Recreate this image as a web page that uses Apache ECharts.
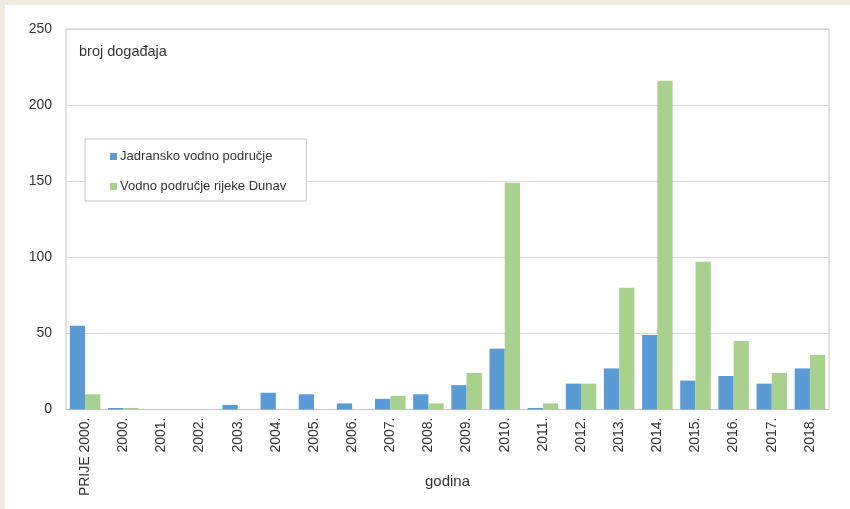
<!DOCTYPE html>
<html>
<head>
<meta charset="utf-8">
<script src="https://cdn.jsdelivr.net/npm/echarts@6/dist/echarts.min.js"></script>
<style>
  html, body { margin: 0; padding: 0; }
  body { width: 850px; height: 509px; background: #eeebe0; position: relative; overflow: hidden; }
  #chart { position: absolute; left: 5px; top: 5px; width: 845px; height: 504px; background: #ffffff; }
</style>
</head>
<body>
<div id="chart"></div>
<script>
// Number of events per year, by river basin district
const categories = ['PRIJE 2000.', '2000.', '2001.', '2002.', '2003.', '2004.', '2005.', '2006.', '2007.', '2008.',
  '2009.', '2010.', '2011.', '2012.', '2013.', '2014.', '2015.', '2016.', '2017.', '2018.'];
const jadransko = [55, 1, 0, 0, 3, 11, 10, 4, 7, 10, 16, 40, 1, 17, 27, 49, 19, 22, 17, 27];
const dunav = [10, 1, 0, 0, 0, 0, 0, 0, 9, 4, 24, 149, 4, 17, 80, 216, 97, 45, 24, 36];
const seriesNames = ['Jadransko vodno područje', 'Vodno područje rijeke Dunav'];
const yTicks = { min: 0, max: 250, interval: 50 };

const FONT = '"Liberation Sans", Arial, sans-serif';
const TEXT = '#333333';

const chart = echarts.init(document.getElementById('chart'), null, { renderer: 'canvas' });
chart.setOption({
  animation: false,
  backgroundColor: 'transparent',
  textStyle: { fontFamily: FONT },
  grid: {
    left: 61, right: 21, top: 24, bottom: 99.5,
    containLabel: false,
    outerBoundsMode: 'none',
    show: true, borderColor: '#c4c4c4', borderWidth: 1, backgroundColor: 'transparent'
  },
  legend: {
    orient: 'vertical',
    left: 80, top: 134,
    padding: [11, 20, 8, 25],
    itemGap: 17,
    itemWidth: 7, itemHeight: 7,
    icon: 'rect',
    borderColor: '#c4c4c4', borderWidth: 1,
    backgroundColor: '#ffffff',
    textStyle: { fontFamily: FONT, fontSize: 13, color: TEXT, padding: [0, 0, 0, -2] },
    data: seriesNames
  },
  graphic: [{
    type: 'text',
    left: 74, top: 39,
    style: { text: 'broj događaja', font: '14.5px ' + FONT, fill: TEXT }
  }],
  xAxis: {
    type: 'category',
    data: categories,
    name: 'godina',
    nameLocation: 'middle',
    nameGap: 65,
    nameMoveOverlap: false,
    nameTextStyle: { fontFamily: FONT, fontSize: 15, color: TEXT },
    axisLine: { lineStyle: { color: '#c4c4c4', width: 1 } },
    axisTick: { show: false },
    axisLabel: { rotate: 90, margin: 8, fontFamily: FONT, fontSize: 14, color: TEXT, interval: 0 }
  },
  yAxis: {
    type: 'value',
    min: yTicks.min, max: yTicks.max, interval: yTicks.interval,
    axisLine: { show: false },
    axisTick: { show: false },
    axisLabel: { margin: 14, fontFamily: FONT, fontSize: 14, color: TEXT },
    splitLine: { lineStyle: { color: '#d6d6d6', width: 1 } }
  },
  series: [
    {
      name: seriesNames[0], type: 'bar', data: jadransko,
      barGap: '0%', barCategoryGap: '20%',
      itemStyle: { color: '#5b9bd5' }
    },
    {
      name: seriesNames[1], type: 'bar', data: dunav,
      barGap: '0%', barCategoryGap: '20%',
      itemStyle: { color: '#a9d18e' }
    }
  ]
});
</script>
</body>
</html>
